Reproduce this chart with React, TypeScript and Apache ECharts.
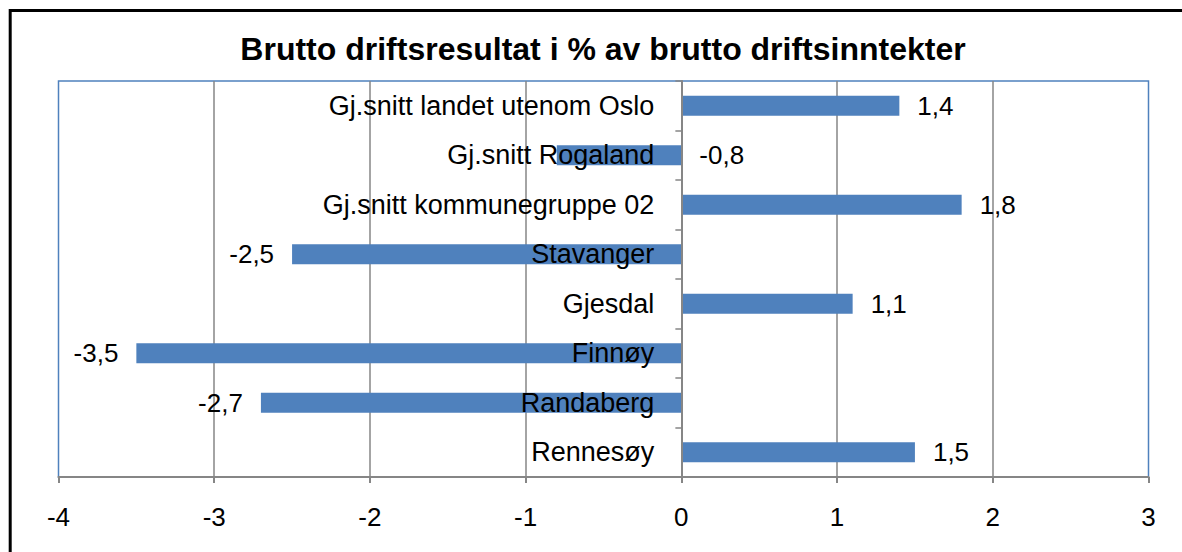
import React, { useEffect, useRef } from "react";
import * as echarts from "echarts";

const categories = [
  "Gj.snitt landet utenom Oslo",
  "Gj.snitt Rogaland",
  "Gj.snitt kommunegruppe 02",
  "Stavanger",
  "Gjesdal",
  "Finnøy",
  "Randaberg",
  "Rennesøy",
];
const values = [1.4, -0.8, 1.8, -2.5, 1.1, -3.5, -2.7, 1.5];
// label side for each bar (the -0,8 label sits right of the zero line in the reference)
const labelSides = ["right", "right", "right", "left", "right", "left", "left", "right"];
const titleText = "Brutto driftsresultat i % av brutto driftsinntekter";
const xMin = -4;
const xMax = 3;

const FONT = "'Liberation Sans', Arial, sans-serif";
const GRID_W = 1090;

export default function App() {
  const ref = useRef<HTMLDivElement>(null);
  useEffect(() => {
    if (!ref.current) return;
    const chart = echarts.init(ref.current, null, { renderer: "svg" });
    // category axis sits on the value axis' zero
    const zeroOffset = -GRID_W * ((0 - xMin) / (xMax - xMin));
    chart.setOption({
      animation: false,
      backgroundColor: "#ffffff",
      textStyle: { fontFamily: FONT },
      title: {
        text: titleText,
        left: 598,
        top: 28,
        textAlign: "center",
        textStyle: { fontFamily: FONT, fontSize: 32, fontWeight: "bold", color: "#000" },
      },
      graphic: [
        {
          type: "rect",
          shape: { x: 10.2, y: 10.5, width: 1300, height: 700 },
          style: { fill: "none", stroke: "#000", lineWidth: 3 },
          z: 100,
        },
      ],
      grid: {
        left: 58.5,
        top: 81,
        width: GRID_W,
        height: 396,
        containLabel: false,
        outerBoundsMode: "none",
        show: true,
        borderColor: "#4F81BD",
        borderWidth: 1.5,
        backgroundColor: "transparent",
      },
      xAxis: {
        type: "value",
        min: xMin,
        max: xMax,
        interval: 1,
        axisLine: { show: true, onZero: false, lineStyle: { color: "#868686", width: 2 } },
        axisTick: { show: true, inside: false, length: 6, lineStyle: { color: "#868686", width: 2 } },
        axisLabel: { fontFamily: FONT, fontSize: 26, color: "#000", margin: 27 },
        splitLine: {
          show: true,
          showMinLine: false,
          showMaxLine: false,
          lineStyle: { color: "#868686", width: 1.5 },
        },
      },
      yAxis: {
        type: "category",
        data: categories,
        inverse: true,
        position: "left",
        offset: zeroOffset,
        z: 5,
        axisLine: { show: true, onZero: false, lineStyle: { color: "#868686", width: 2 } },
        axisTick: { show: true, inside: false, length: 6, lineStyle: { color: "#868686", width: 1.5 } },
        axisLabel: { fontFamily: FONT, fontSize: 27, color: "#000", margin: 27 },
        splitLine: { show: false },
      },
      series: [
        {
          type: "bar",
          barWidth: 20,
          itemStyle: { color: "#4F81BD" },
          data: values.map((v, i) => ({
            value: v,
            label: { position: labelSides[i] },
          })),
          label: {
            show: true,
            distance: 18,
            fontFamily: FONT,
            fontSize: 26,
            color: "#000",
            formatter: (p: any) => String(p.value).replace(".", ","),
          },
        },
      ],
    });
    return () => chart.dispose();
  }, []);
  return (
    <div
      ref={ref}
      style={{ position: "fixed", left: 0, top: 0, width: 1182, height: 552 }}
    />
  );
}
